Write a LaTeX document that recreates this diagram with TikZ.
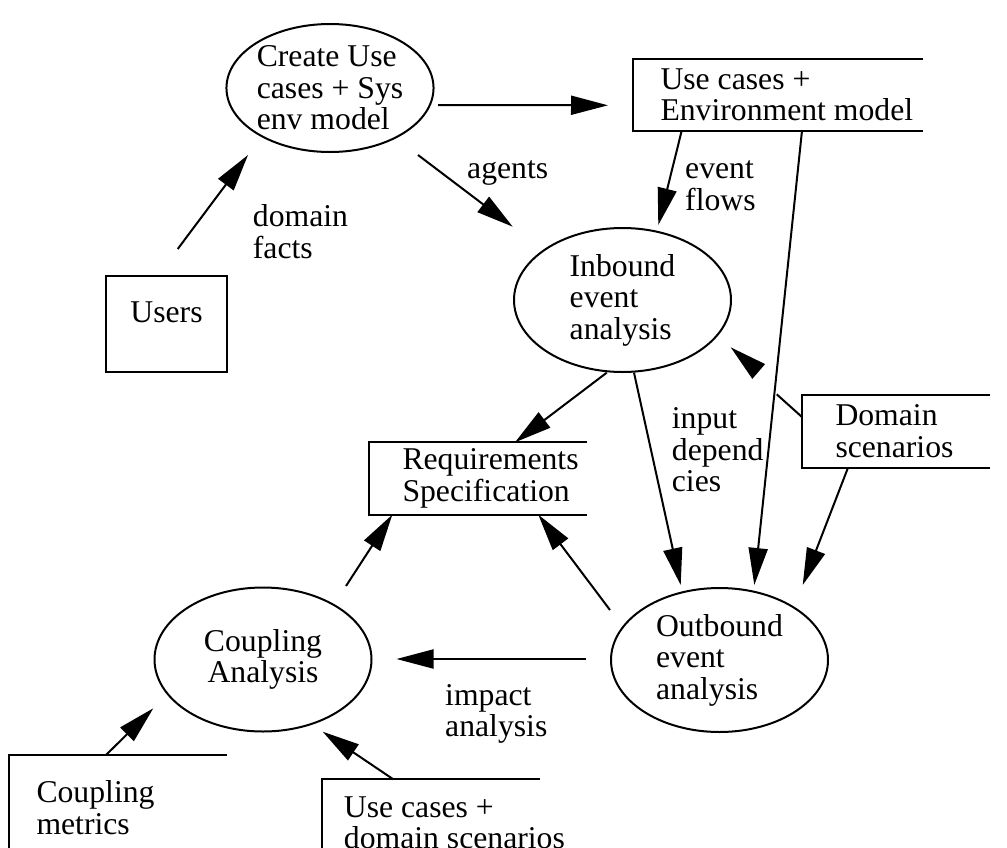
\documentclass[tikz,border=0pt]{standalone}
\usepackage{fontspec}
\setmainfont{Liberation Serif}
\usepackage{tikz}
\usetikzlibrary{arrows.meta, calc, shapes.geometric}
\tikzset{
  proc/.style      = {ellipse, draw, line width=2pt, minimum width=217pt,
                      minimum height=144pt, inner sep=0pt, align=left},
  extbox/.style    = {draw, line width=2pt, minimum width=121pt, minimum height=96pt},
  flowarrow/.style = {-{Triangle[length=37pt, width=19pt]}, line width=2pt},
  flowline/.style  = {line width=2pt},
  storetxt/.style  = {anchor=north west, inner ysep=0pt, align=left},
  storeedge/.style = {line width=2pt},
  flowlab/.style   = {anchor=base west, inner sep=0pt, align=left},
}
\newcommand{\dstore}[7]{%
  \node[storetxt, minimum height=#5pt, inner xsep=#6pt] (#1) at (#2,#3) {#7};
  \draw[storeedge] ([xshift=#4pt]#1.north west) -- (#1.north west)
    -- (#1.south west) -- ([xshift=#4pt]#1.south west);}

\begin{document}
\begin{tikzpicture}[x=1pt, y=-1pt, font=\fontsize{31.7}{31.5}\selectfont]
  \clip (0,0) rectangle (1007,847);
  \node[proc, minimum width=200pt, minimum height=128pt] (create) at (330,88) {Create Use\\cases + Sys\\env model};
  \node[proc] (inbound)  at (622.5,300)   {Inbound\\event\\analysis};
  \node[proc] (outbound) at (719.5,660)   {Outbound\\event\\analysis};
  \node[proc, align=center] (coupling) at (263,659.5) {Coupling\\Analysis};
  \node[extbox, text depth=24pt] (users) at (166.5,324) {Users};
  \dstore{ucstore}{633.3}{59.3}{290}{71}{27}{Use cases +\\Environment model}
  \dstore{reqspec}{369.3}{442.3}{217.4}{72}{33}{Requirements\\Specification}
  \dstore{domscen}{802.3}{395}{188}{72.3}{33}{Domain\\scenarios}
  \dstore{cmetrics}{9.3}{755}{217.4}{105}{27}{Coupling\\metrics}
  \dstore{ucdom}{321.7}{779.3}{218.3}{87}{22}{Use cases +\\domain scenarios}
  \draw[flowarrow] ([shift={(108,17)}]create.center) -- ([shift={(-25.3,10.3)}]ucstore.west);
  \draw[flowarrow] ([shift={(88,67)}]create.center) -- ([shift={(-109.8,-73.3)}]inbound.center);
  \draw[flowarrow] ([shift={(11.2,-26)}]users.north) -- ([shift={(-82,67)}]create.center);
  \draw[flowarrow] ([shift={(48.4,0)}]ucstore.south west) -- ([shift={(35.8,-75)}]inbound.center);
  \draw[flowarrow] ([shift={(168.7,0)}]ucstore.south west) -- ([shift={(34.8,-75)}]outbound.center);
  \draw[flowarrow] ([shift={(-15.8,72.7)}]inbound.center) -- ([shift={(145.7,0)}]reqspec.north west);
  \draw[flowarrow] ([shift={(11.5,72.7)}]inbound.center) -- ([shift={(-38.8,-75)}]outbound.center);
  \draw[flowline] ([shift={(0,22.3)}]domscen.north west) -- ([shift={(-25.6,-0.7)}]domscen.north west);
  \draw[flowarrow] ([shift={(134.5,70)}]inbound.center) -- ([shift={(108.2,47.3)}]inbound.center);
  \draw[flowarrow] ([shift={(45.7,0)}]domscen.south west) -- ([shift={(83.2,-75)}]outbound.center);
  \draw[flowarrow] ([shift={(-109.5,-50)}]outbound.center) -- ([shift={(169,0)}]reqspec.south west);
  \draw[flowarrow] ([shift={(-24,-1)}]outbound.west) -- ([shift={(24,-0.5)}]coupling.east);
  \draw[flowarrow] ([shift={(83,-73.5)}]coupling.center) -- ([shift={(23,0)}]reqspec.south west);
  \draw[flowarrow] ([shift={(96.7,0)}]cmetrics.north west) -- ([shift={(-109.7,48.8)}]coupling.center);
  \draw[flowarrow] ([shift={(71.6,0)}]ucdom.north west) -- ([shift={(59.7,72.2)}]coupling.center);
  \node[flowlab] (lagents) at (467,178)    {agents};
  \node[flowlab] (lfacts)  at (252.7,258)  {domain\\facts};
  \node[flowlab] (lflows)  at (685,210)    {event\\flows};
  \node[flowlab] (ldeps)   at (671.7,491.7) {input\\depend\\cies};
  \node[flowlab] (limpact) at (445,736.7)  {impact\\analysis};
\end{tikzpicture}
\end{document}
